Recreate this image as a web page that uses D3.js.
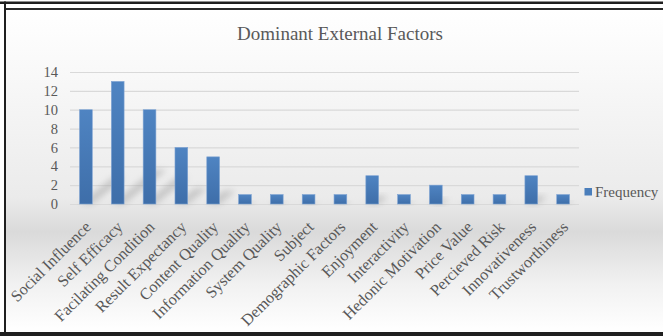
<!DOCTYPE html>
<html>
<head>
<meta charset="utf-8">
<script src="https://cdn.jsdelivr.net/npm/d3@7"></script>
<style>
html,body{margin:0;padding:0;background:#fff;}
svg{display:block;}
text{font-family:"Liberation Serif","Times New Roman",serif;}
</style>
</head>
<body>
<svg id="chart" width="663" height="336"></svg>
<script>
const categories = ["Social Influence","Self Efficacy","Facilating Condition","Result Expectancy","Content  Quality","Information Quality","System Quality","Subject","Demographic Factors","Enjoyment","Interactivity","Hedonic Motivation","Price Value","Percieved Risk","Innovativeness","Trustworthiness"];
const frequency = [10,13,10,6,5,1,1,1,1,3,1,2,1,1,3,1];
const yTicks = [0,2,4,6,8,10,12,14];
const title = "Dominant External Factors";
const seriesName = "Frequency";

const W = 663, H = 336;
const svg = d3.select("#chart");
const defs = svg.append("defs");

// background gradient
const bg = defs.append("linearGradient").attr("id","bg").attr("x1",0).attr("y1",0).attr("x2",0).attr("y2",1);
[[0,"#ffffff"],[0.18,"#f9f9f9"],[0.58,"#ebebeb"],[0.69,"#dadada"],[0.85,"#f1f1f1"],[1,"#ffffff"]]
  .forEach(([o,c])=>bg.append("stop").attr("offset",o).attr("stop-color",c));
const barG = defs.append("linearGradient").attr("id","barg").attr("x1",0).attr("y1",0).attr("x2",0).attr("y2",1);
[[0,"#4f84c2"],[1,"#3e6ea9"]].forEach(([o,c])=>barG.append("stop").attr("offset",o).attr("stop-color",c));
defs.append("filter").attr("id","blur").attr("x","-50%").attr("y","-50%").attr("width","200%").attr("height","200%")
  .append("feGaussianBlur").attr("stdDeviation",3);

svg.append("rect").attr("x",5).attr("y",10).attr("width",W-5).attr("height",322).attr("fill","url(#bg)");

// frame
svg.append("rect").attr("x",0).attr("y",1.5).attr("width",W).attr("height",2.5).attr("fill","#1f1f1f");
svg.append("rect").attr("x",5).attr("y",8).attr("width",W-5).attr("height",2).attr("fill","#2a2a2a");
svg.append("rect").attr("x",4).attr("y",1.5).attr("width",2).attr("height",H).attr("fill","#1f1f1f");
svg.append("rect").attr("x",0).attr("y",332).attr("width",W).attr("height",4).attr("fill","#1f1f1f");

const x = d3.scaleBand().domain(categories).range([70,579]).paddingInner(0.6).paddingOuter(0.3);
const y = d3.scaleLinear().domain([0,14]).range([204,72]);

// title
svg.append("text").attr("x",340).attr("y",40).attr("text-anchor","middle")
  .attr("font-size",19).attr("fill","#595959").text(title);

// gridlines
const yAxis = d3.axisLeft(y).tickValues(yTicks).tickSize(-(579-70)).tickPadding(12);
const ga = svg.append("g").attr("transform","translate(70,0)").call(yAxis);
ga.select(".domain").remove();
ga.selectAll(".tick line").attr("stroke","#d9d9d9").attr("stroke-width",1.2);
ga.selectAll(".tick text").attr("font-size",14.5).attr("fill","#595959")
  .attr("font-family","Liberation Serif, Times New Roman, serif");

// shadows
svg.append("g").selectAll("path").data(frequency).join("path")
  .attr("d",(d,i)=>{
    const x0 = x(categories[i]), bw = x.bandwidth(), y0 = y(0);
    const L = (y(0)-y(d))*0.35;
    return `M${x0},${y0} L${x0+bw},${y0} L${x0+bw+L},${y0-L*0.8} L${x0+L},${y0-L*0.8} Z`;
  })
  .attr("fill","#9a9a9a").attr("opacity",0.45).attr("filter","url(#blur)");

// bars
svg.append("g").selectAll("rect").data(frequency).join("rect")
  .attr("x",(d,i)=>x(categories[i])).attr("y",d=>y(d))
  .attr("width",x.bandwidth()).attr("height",d=>y(0)-y(d))
  .attr("fill","url(#barg)").attr("stroke","#7ea3d3").attr("stroke-width",0.6);

// x labels
const xAxis = d3.axisBottom(x).tickSize(0).tickPadding(0);
const gx = svg.append("g").attr("transform","translate(0,204)").call(xAxis);
gx.select(".domain").remove();
gx.selectAll(".tick text")
  .attr("font-size",16.2).attr("fill","#595959")
  .attr("font-family","Liberation Serif, Times New Roman, serif")
  .attr("text-anchor","end")
  .attr("transform","translate(2,20) rotate(-45)")
  .attr("dy","0.35em").attr("y",0);

// legend
svg.append("rect").attr("x",584.5).attr("y",188).attr("width",7.5).attr("height",7.5).attr("fill","#4a7ebb");
svg.append("text").attr("x",595).attr("y",197).attr("font-size",15).attr("fill","#595959").text(seriesName);
</script>
</body>
</html>
